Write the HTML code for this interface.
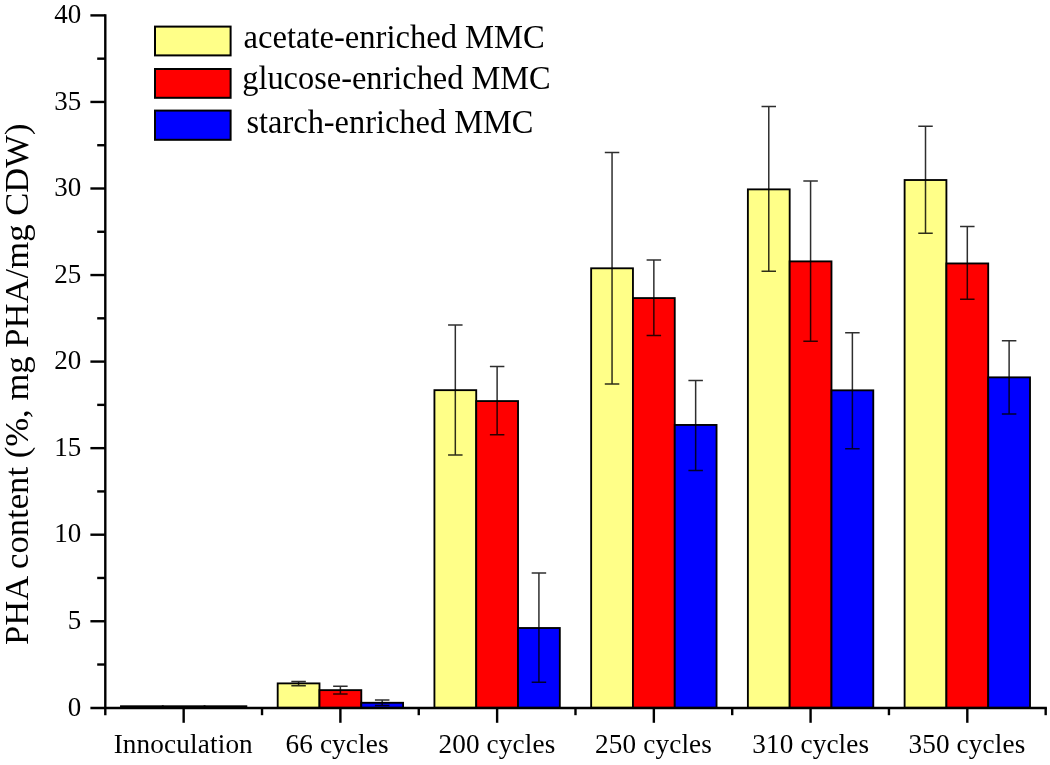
<!DOCTYPE html>
<html><head><meta charset="utf-8"><title>PHA content chart</title>
<style>
html,body{margin:0;padding:0;background:#fff;}
body{width:1050px;height:765px;overflow:hidden;font-family:"Liberation Serif",serif;}
svg{display:block;will-change:transform;}
</style></head><body>
<svg width="1050" height="765" viewBox="0 0 1050 765">
<rect x="0" y="0" width="1050" height="765" fill="#ffffff"/>
<g stroke="#000" stroke-width="1.85" stroke-linejoin="miter">
<rect x="120.97" y="706.24" width="41.80" height="1.56" fill="#FFFF88"/>
<rect x="162.76" y="706.24" width="41.80" height="1.56" fill="#FF0000"/>
<rect x="204.56" y="706.24" width="41.80" height="1.56" fill="#0000FF"/>
<rect x="277.69" y="683.39" width="41.80" height="24.41" fill="#FFFF88"/>
<rect x="319.50" y="690.14" width="41.80" height="17.66" fill="#FF0000"/>
<rect x="361.29" y="702.78" width="41.80" height="5.02" fill="#0000FF"/>
<rect x="434.43" y="390.16" width="41.80" height="317.64" fill="#FFFF88"/>
<rect x="476.23" y="401.07" width="41.80" height="306.73" fill="#FF0000"/>
<rect x="518.02" y="628.00" width="41.80" height="79.80" fill="#0000FF"/>
<rect x="591.15" y="268.30" width="41.80" height="439.50" fill="#FFFF88"/>
<rect x="632.95" y="298.07" width="41.80" height="409.73" fill="#FF0000"/>
<rect x="674.75" y="424.95" width="41.80" height="282.85" fill="#0000FF"/>
<rect x="747.88" y="189.37" width="41.80" height="518.43" fill="#FFFF88"/>
<rect x="789.68" y="261.38" width="41.80" height="446.42" fill="#FF0000"/>
<rect x="831.48" y="390.33" width="41.80" height="317.47" fill="#0000FF"/>
<rect x="904.61" y="180.02" width="41.80" height="527.78" fill="#FFFF88"/>
<rect x="946.41" y="263.45" width="41.80" height="444.35" fill="#FF0000"/>
<rect x="988.21" y="377.35" width="41.80" height="330.45" fill="#0000FF"/>
</g>
<g stroke="#000" stroke-opacity="0.82" stroke-width="1.50" fill="none">
<path d="M298.59 681.40V685.64M291.34 681.40H305.84M291.34 685.64H305.84"/>
<path d="M340.39 686.16V693.95M333.14 686.16H347.64M333.14 693.95H347.64"/>
<path d="M382.19 700.01V705.55M374.94 700.01H389.44M374.94 705.55H389.44"/>
<path d="M455.32 325.08V455.07M448.07 325.08H462.57M448.07 455.07H462.57"/>
<path d="M497.12 366.45V434.65M489.88 366.45H504.38M489.88 434.65H504.38"/>
<path d="M538.92 572.96V682.35M531.67 572.96H546.17M531.67 682.35H546.17"/>
<path d="M612.05 152.50V384.10M604.80 152.50H619.30M604.80 384.10H619.30"/>
<path d="M653.85 259.99V335.46M646.60 259.99H661.10M646.60 335.46H661.10"/>
<path d="M695.65 380.47V470.48M688.40 380.47H702.90M688.40 470.48H702.90"/>
<path d="M768.78 106.62V271.24M761.53 106.62H776.03M761.53 271.24H776.03"/>
<path d="M810.58 181.06V341.35M803.33 181.06H817.83M803.33 341.35H817.83"/>
<path d="M852.38 332.87V448.67M845.13 332.87H859.63M845.13 448.67H859.63"/>
<path d="M925.51 126.18V233.33M918.26 126.18H932.76M918.26 233.33H932.76"/>
<path d="M967.31 226.58V299.28M960.06 226.58H974.56M960.06 299.28H974.56"/>
<path d="M1009.12 340.65V414.05M1001.87 340.65H1016.37M1001.87 414.05H1016.37"/>
</g>
<g stroke="#000" stroke-width="2.40" fill="none" stroke-linecap="butt">
<path d="M105.30 14.20V715.20"/>
<path d="M90.40 708.00H1046.88"/>
<path d="M97.20 664.52H105.30"/>
<path d="M90.40 621.25H105.30"/>
<path d="M97.20 577.97H105.30"/>
<path d="M90.40 534.70H105.30"/>
<path d="M97.20 491.42H105.30"/>
<path d="M90.40 448.15H105.30"/>
<path d="M97.20 404.88H105.30"/>
<path d="M90.40 361.60H105.30"/>
<path d="M97.20 318.32H105.30"/>
<path d="M90.40 275.05H105.30"/>
<path d="M97.20 231.77H105.30"/>
<path d="M90.40 188.50H105.30"/>
<path d="M97.20 145.23H105.30"/>
<path d="M90.40 101.95H105.30"/>
<path d="M97.20 58.67H105.30"/>
<path d="M90.40 15.40H105.30"/>
<path d="M183.66 707.80V722.80"/>
<path d="M262.03 707.80V715.20"/>
<path d="M340.39 707.80V722.80"/>
<path d="M418.76 707.80V715.20"/>
<path d="M497.12 707.80V722.80"/>
<path d="M575.49 707.80V715.20"/>
<path d="M653.85 707.80V722.80"/>
<path d="M732.22 707.80V715.20"/>
<path d="M810.58 707.80V722.80"/>
<path d="M888.95 707.80V715.20"/>
<path d="M967.31 707.80V722.80"/>
<path d="M1045.68 707.80V715.20"/>
</g>
<g font-family="'Liberation Serif', serif" fill="#000">
<g font-size="28.30" text-anchor="end">
<text transform="translate(81.2 715.50) scale(0.955 1)">0</text>
<text transform="translate(81.2 628.95) scale(0.955 1)">5</text>
<text transform="translate(81.2 542.40) scale(0.955 1)">10</text>
<text transform="translate(81.2 455.85) scale(0.955 1)">15</text>
<text transform="translate(81.2 369.30) scale(0.955 1)">20</text>
<text transform="translate(81.2 282.75) scale(0.955 1)">25</text>
<text transform="translate(81.2 196.20) scale(0.955 1)">30</text>
<text transform="translate(81.2 109.65) scale(0.955 1)">35</text>
<text transform="translate(81.2 23.10) scale(0.955 1)">40</text>
</g>
<g font-size="27.20" text-anchor="middle" letter-spacing="0.15">
<text transform="translate(183.26 752.5) scale(1 1.04)">Innoculation</text>
<text transform="translate(337.09 752.5) scale(1 1.04)">66 cycles</text>
<text transform="translate(496.93 752.5) scale(1 1.04)">200 cycles</text>
<text transform="translate(653.55 752.5) scale(1 1.04)">250 cycles</text>
<text transform="translate(810.78 752.5) scale(1 1.04)">310 cycles</text>
<text transform="translate(966.91 752.5) scale(1 1.04)">350 cycles</text>
</g>
<g stroke="#000" stroke-width="2">
<rect x="155" y="26.60" width="75.6" height="28.80" fill="#FFFF88"/>
<rect x="155" y="69.00" width="75.6" height="28.80" fill="#FF0000"/>
<rect x="155" y="110.60" width="75.6" height="29.20" fill="#0000FF"/>
</g>
<g font-size="32.40">
<text transform="translate(243.5 48.4) scale(1 1.030)" font-size="32.6">acetate-enriched MMC</text>
<text transform="translate(242.2 89.3) scale(1 1.030)">glucose-enriched MMC</text>
<text transform="translate(246.5 133) scale(1 1.030)">starch-enriched MMC</text>
</g>
<text font-size="34.65" transform="translate(28.4 645.0) rotate(-90)">PHA content (%, mg PHA/mg CDW)</text>
</g>
</svg>
</body></html>
